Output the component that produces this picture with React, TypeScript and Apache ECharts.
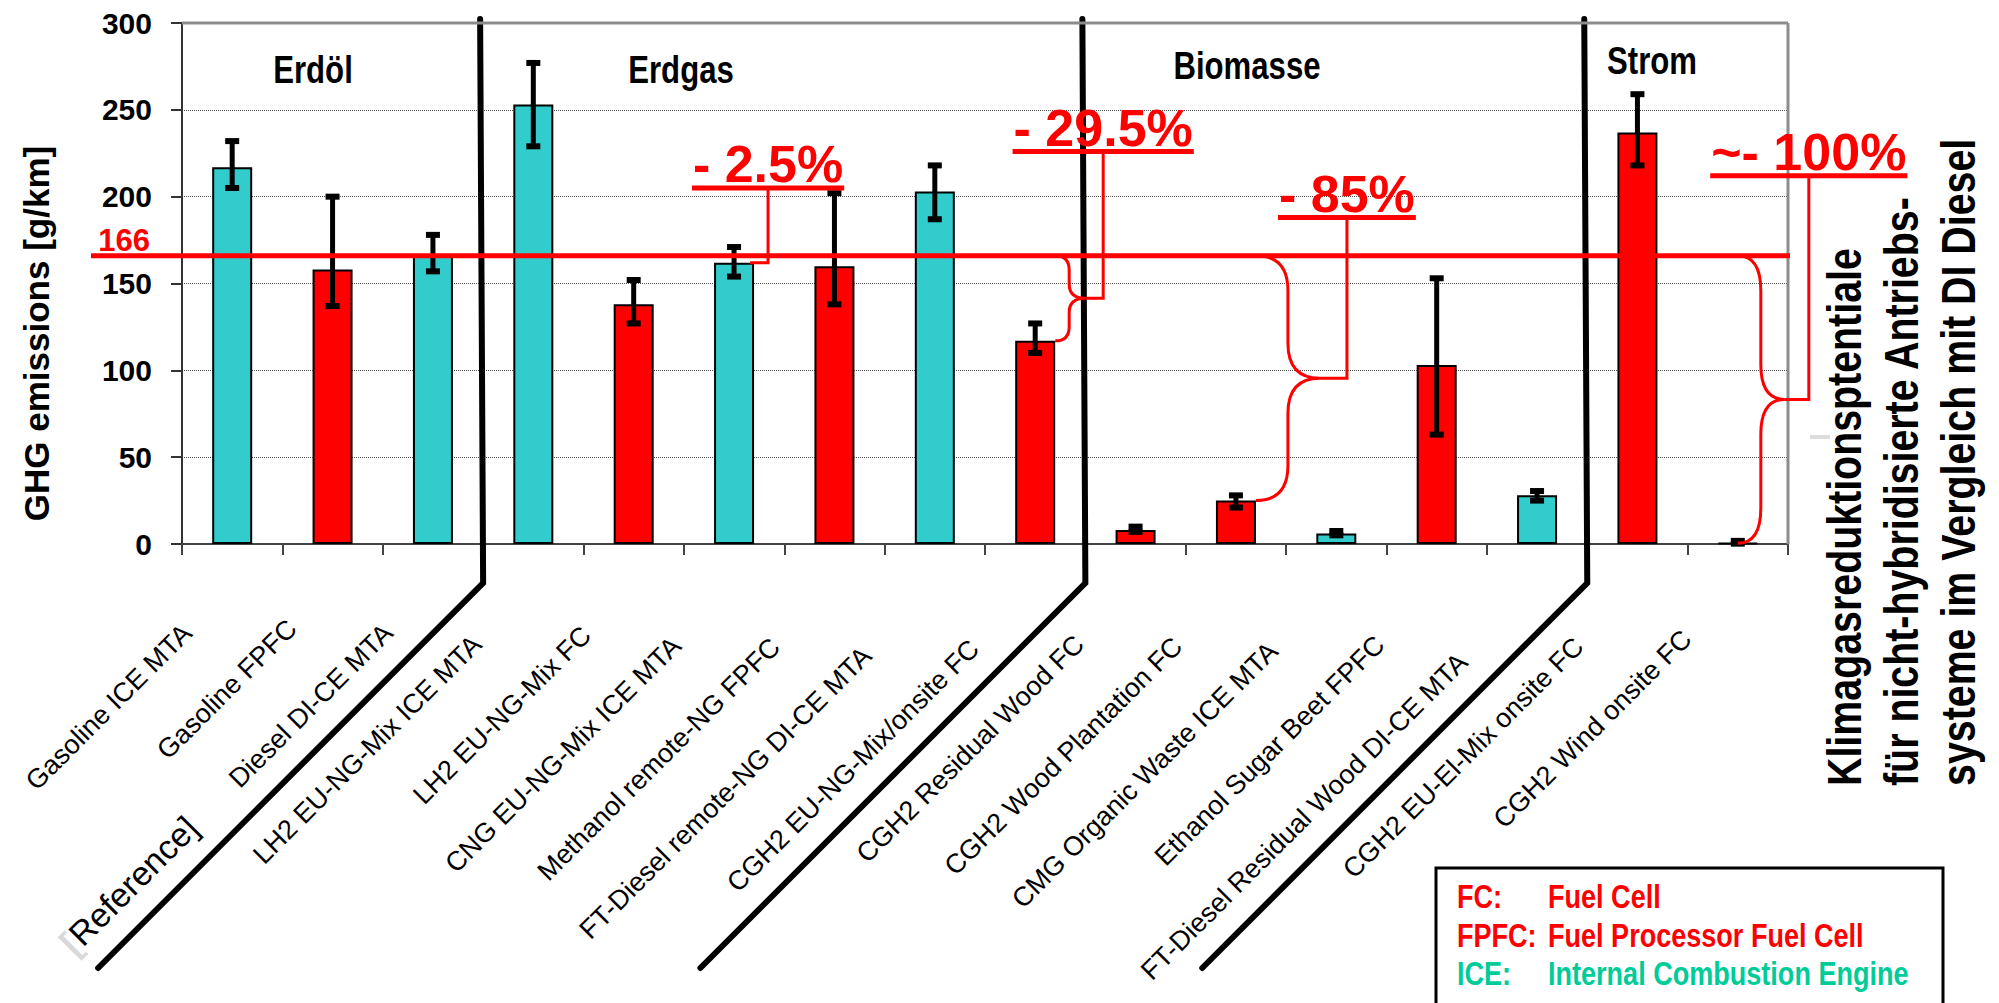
import React, { useEffect, useRef } from "react";
import * as echarts from "echarts";

// ---------------- data ----------------
const CATEGORIES = [
  "Gasoline ICE MTA",
  "Gasoline FPFC",
  "Diesel DI-CE MTA",
  "LH2 EU-NG-Mix ICE MTA",
  "LH2 EU-NG-Mix FC",
  "CNG EU-NG-Mix ICE MTA",
  "Methanol remote-NG FPFC",
  "FT-Diesel remote-NG DI-CE MTA",
  "CGH2 EU-NG-Mix/onsite FC",
  "CGH2 Residual Wood FC",
  "CGH2 Wood Plantation FC",
  "CMG Organic Waste ICE MTA",
  "Ethanol Sugar Beet FPFC",
  "FT-Diesel Residual Wood DI-CE MTA",
  "CGH2 EU-El-Mix onsite FC",
  "CGH2 Wind onsite FC",
];
const DRIVE_TYPES = ["ICE", "FPFC", "ICE", "ICE", "FC", "ICE", "FPFC", "ICE", "FC", "FC", "FC", "ICE", "FPFC", "ICE", "FC", "FC"];
const GHG_VALUES = [217, 158, 166, 253, 138, 162, 160, 203, 117, 8, 25, 6, 103, 28, 237, 0.5];
const ERROR_LOW = [205, 137, 157, 229, 127, 154, 138, 187, 110, 7, 21, 5, 63, 25, 218, 0.2];
const ERROR_HIGH = [232, 200, 178, 277, 152, 171, 202, 218, 127, 10, 28, 7.5, 153, 30.5, 259, 1.8];
const Y_MIN = 0;
const Y_MAX = 300;
const Y_STEP = 50;
const Y_NAME = "GHG emissions [g/km]";
const REFERENCE_VALUE = 166;
const REFERENCE_NOTE = "[Reference]";
const GROUP_NAMES = ["Erdöl", "Erdgas", "Biomasse", "Strom"];
const GROUP_BOUNDARIES = [3, 9, 14];
const REDUCTION_LABELS = ["- 2.5%", "- 29.5%", "- 85%", "~- 100%"];
const REDUCTION_TARGETS = [5, 8, 10, 15];
const LEGEND_ABBR = ["FC:", "FPFC:", "ICE:"];
const LEGEND_TEXT = ["Fuel Cell", "Fuel Processor Fuel Cell", "Internal Combustion Engine"];
const SIDE_TEXT = [
  "Klimagasreduktionsptentiale",
  "für nicht-hybridisierte Antriebs-",
  "systeme im Vergleich mit DI Diesel",
];

// ---------------- layout / style ----------------
const WIDTH = 1999;
const HEIGHT = 1003;
const SANS = '"Liberation Sans", Arial, sans-serif';
const NARROW_SCALE = 0.82;
const RED = "#FF0000";
const CYAN = "#33CCCC";
const GREEN = "#00CC99";
const TYPE_COLORS: Record<string, string> = { FC: RED, FPFC: RED, ICE: CYAN };
const GROUP_LABEL_POS = [
  [313, 70],
  [681, 70],
  [1247, 66],
  [1652, 61],
];
// startOff: px from category centre; stem/tip: brace offsets; conn: connector offset; labelValue: underline height (axis units)
const ANNOT_LAYOUT = [
  { startOff: 16, stem: 0, tip: 0, conn: 18, labelValue: 205 },
  { startOff: 20, stem: 14, tip: 30, conn: 18, labelValue: 226 },
  { startOff: 20, stem: 32, tip: 64, conn: 27, labelValue: 188 },
  { startOff: 0, stem: 23, tip: 47, conn: 24, labelValue: 212 },
];
const ANNOT_FONT_SIZE = 52;
const LABEL_FONT_SIZE = 27;

function measure(text: string, font: string): number {
  const ctx = document.createElement("canvas").getContext("2d");
  if (!ctx) return text.length * 20;
  ctx.font = font;
  return ctx.measureText(text).width;
}

function buildOption() {
  const annotFont = `bold ${ANNOT_FONT_SIZE}px "Liberation Sans"`;
  const labelWidths = CATEGORIES.map((c) => measure(c, `${LABEL_FONT_SIZE}px "Liberation Sans"`));
  const rich: Record<string, any> = {};
  CATEGORIES.forEach((_, i) => {
    rich["r" + i] = {
      fontFamily: SANS,
      fontSize: LABEL_FONT_SIZE,
      color: "#000",
      padding: [0, 52 + 0.18 * labelWidths[i], 0, 0],
    };
  });

  const renderErrorBar = (params: any, api: any) => {
    const x = api.coord([api.value(0), 0])[0];
    const yLo = api.coord([api.value(0), api.value(1)])[1];
    const yHi = api.coord([api.value(0), api.value(2)])[1];
    return {
      type: "group",
      children: [
        { type: "line", shape: { x1: x, y1: yHi, x2: x, y2: yLo }, style: { stroke: "#000", lineWidth: 5 } },
        { type: "rect", shape: { x: x - 7, y: yHi - 3, width: 14, height: 6 }, style: { fill: "#000" } },
        { type: "rect", shape: { x: x - 7, y: yLo - 3, width: 14, height: 6 }, style: { fill: "#000" } },
      ],
    };
  };

  const renderSeparator = (params: any, api: any) => {
    const band = api.size([1, 0])[0];
    const x = api.coord([api.value(0), 0])[0] - band / 2;
    const yAxis = api.coord([0, Y_MIN])[1];
    const yTop = api.coord([0, Y_MAX])[1];
    return {
      type: "polyline",
      shape: { points: [[x - 3, yTop - 4], [x, yAxis + 39], [x - 385, yAxis + 424]] },
      style: { fill: "none", stroke: "#000", lineWidth: 6, lineCap: "round", lineJoin: "miter" },
    };
  };

  const renderReference = (params: any, api: any) => {
    const band = api.size([1, 0])[0];
    const left = api.coord([0, 0])[0] - band / 2;
    const right = api.coord([CATEGORIES.length - 1, 0])[0] + band / 2;
    const yRef = api.coord([0, api.value(1)])[1];
    const yTop = api.coord([0, Y_MAX])[1];
    const yBottom = api.coord([0, Y_MIN])[1];
    return {
      type: "group",
      children: [
        { type: "line", shape: { x1: left, y1: yTop, x2: right, y2: yTop }, style: { stroke: "#8c8c8c", lineWidth: 3 } },
        { type: "line", shape: { x1: right, y1: yTop, x2: right, y2: yBottom }, style: { stroke: "#8c8c8c", lineWidth: 3 } },
        { type: "line", shape: { x1: left - 91, y1: yRef, x2: right + 2, y2: yRef }, style: { stroke: RED, lineWidth: 5 } },
        {
          type: "text",
          style: {
            text: String(REFERENCE_VALUE),
            x: left - 32,
            y: yRef - 15,
            align: "right",
            textAlign: "right",
            verticalAlign: "middle",
            textVerticalAlign: "middle",
            font: `bold 31px ${SANS}`,
            fill: RED,
          },
        },
      ],
    };
  };

  const renderAnnotation = (params: any, api: any) => {
    const i = params.dataIndex;
    const L = ANNOT_LAYOUT[i];
    const cat = api.value(0);
    const [cx, yTop] = api.coord([cat, REFERENCE_VALUE]);
    const yBot = api.coord([cat, api.value(1)])[1];
    const x0 = cx + L.startOff;
    const children: any[] = [];
    let tipX = x0;
    let tipY = yBot;
    if (L.stem) {
      const xs = x0 + L.stem;
      const xt = x0 + L.tip;
      const ym = (yTop + yBot) / 2;
      const r = Math.min(35, (yBot - yTop) / 6);
      const d =
        `M${x0},${yTop} Q${xs},${yTop} ${xs},${yTop + r} L${xs},${ym - r} ` +
        `Q${xs},${ym} ${xt},${ym} Q${xs},${ym} ${xs},${ym + r} L${xs},${yBot - r} Q${xs},${yBot} ${x0},${yBot}`;
      children.push({ type: "path", shape: { pathData: d }, style: { fill: "none", stroke: RED, lineWidth: 3 } });
      tipX = xt;
      tipY = ym;
    }
    const xc = tipX + L.conn;
    const yU = api.coord([cat, L.labelValue])[1];
    children.push({
      type: "polyline",
      shape: { points: [[tipX, tipY], [xc, tipY], [xc, yU]] },
      style: { fill: "none", stroke: RED, lineWidth: 3 },
    });
    const text = REDUCTION_LABELS[i];
    const tw = measure(text, annotFont);
    children.push({ type: "rect", shape: { x: xc - tw / 2 - 1, y: yU - 2.5, width: tw + 2, height: 5 }, style: { fill: RED } });
    children.push({
      type: "text",
      style: {
        text,
        x: xc,
        y: yU - 24,
        align: "center",
        textAlign: "center",
        verticalAlign: "middle",
        textVerticalAlign: "middle",
        font: annotFont,
        fill: RED,
      },
    });
    return { type: "group", children };
  };

  const textEl = (
    text: string,
    x: number,
    y: number,
    font: string,
    fill: string,
    align = "left",
    rotation = 0,
    scaleX = 1
  ) => ({
    type: "text",
    x,
    y,
    rotation,
    scaleX,
    scaleY: 1,
    style: {
      text,
      align,
      textAlign: align,
      verticalAlign: "middle",
      textVerticalAlign: "middle",
      font,
      fill,
    },
  });

  const graphics: any[] = [];
  GROUP_NAMES.forEach((g, i) => {
    graphics.push(
      textEl(g, GROUP_LABEL_POS[i][0], GROUP_LABEL_POS[i][1], `bold 38px ${SANS}`, "#000", "center", 0, NARROW_SCALE)
    );
  });
  SIDE_TEXT.forEach((t, i) => {
    graphics.push(textEl(t, 1844 + i * 57, 786, `bold 48px ${SANS}`, "#000", "left", Math.PI / 2, NARROW_SCALE));
  });
  graphics.push({
    type: "rect",
    shape: { x: 1436, y: 868, width: 507, height: 200 },
    style: { fill: "#fff", stroke: "#000", lineWidth: 3 },
  });
  LEGEND_ABBR.forEach((a, i) => {
    const color = i < 2 ? RED : GREEN;
    graphics.push(textEl(a, 1457, 897 + i * 38.5, `bold 33px ${SANS}`, color, "left", 0, NARROW_SCALE));
    graphics.push(textEl(LEGEND_TEXT[i], 1548, 897 + i * 38.5, `bold 33px ${SANS}`, color, "left", 0, NARROW_SCALE));
  });
  graphics.push({
    type: "text",
    x: 192,
    y: 822,
    rotation: Math.PI / 4,
    style: {
      text: "{g|[}" + REFERENCE_NOTE.slice(1),
      align: "right",
      textAlign: "right",
      verticalAlign: "middle",
      textVerticalAlign: "middle",
      font: `34px ${SANS}`,
      fill: "#000",
      rich: { g: { fill: "#d9d9d9", fontSize: 36, fontFamily: SANS, fontWeight: "bold" } },
    },
  });
  graphics.push({
    type: "line",
    shape: { x1: 1810, y1: 437, x2: 1830, y2: 437 },
    style: { stroke: "#dddddd", lineWidth: 4 },
  });

  return {
    animation: false,
    backgroundColor: "#fff",
    grid: { left: 182, right: WIDTH - 1788, top: 23, bottom: HEIGHT - 544, outerBoundsMode: "none", containLabel: false },
    xAxis: {
      type: "category",
      data: CATEGORIES,
      axisLine: { show: true, lineStyle: { color: "#444", width: 2 } },
      axisTick: { show: true, length: 11, lineStyle: { color: "#444", width: 2 } },
      splitLine: { show: false },
      axisLabel: {
        interval: 0,
        rotate: 45,
        margin: 0,
        padding: [56, 0, 0, 0],
        fontFamily: SANS,
        fontSize: LABEL_FONT_SIZE,
        color: "#000",
        formatter: (v: string, i: number) => `{r${i}|${v}}`,
        rich,
      },
    },
    yAxis: {
      type: "value",
      min: Y_MIN,
      max: Y_MAX,
      interval: Y_STEP,
      name: Y_NAME,
      nameLocation: "middle",
      nameRotate: 90,
      nameGap: 128,
      nameTextStyle: {
        fontFamily: SANS,
        fontWeight: "bold",
        fontSize: 35,
        color: "#000",
        padding: [0, 100, 0, 0],
      },
      axisLine: { show: true, lineStyle: { color: "#333", width: 2 } },
      axisTick: { show: true, length: 11, lineStyle: { color: "#333", width: 2 } },
      axisLabel: { fontFamily: SANS, fontWeight: "bold", fontSize: 30, color: "#000", margin: 30 },
      splitLine: { show: true, lineStyle: { type: "dotted", color: "#555", width: 1 } },
    },
    series: [
      {
        type: "bar",
        barWidth: 40,
        data: GHG_VALUES.map((v, i) => ({ value: v, itemStyle: { color: TYPE_COLORS[DRIVE_TYPES[i]] } })),
        itemStyle: { borderColor: "#000", borderWidth: 2 },
        z: 2,
      },
      {
        type: "custom",
        renderItem: renderErrorBar,
        data: GHG_VALUES.map((_, i) => [i, ERROR_LOW[i], ERROR_HIGH[i]]),
        encode: { x: 0, y: [1, 2] },
        z: 3,
      },
      {
        type: "custom",
        renderItem: renderSeparator,
        data: GROUP_BOUNDARIES.map((b) => [b, 0]),
        encode: { x: 0, y: 1 },
        clip: false,
        z: 4,
      },
      {
        type: "custom",
        renderItem: renderReference,
        data: [[0, REFERENCE_VALUE]],
        encode: { x: 0, y: 1 },
        clip: false,
        z: 5,
      },
      {
        type: "custom",
        renderItem: renderAnnotation,
        data: REDUCTION_TARGETS.map((c) => [c, GHG_VALUES[c]]),
        encode: { x: 0, y: 1 },
        clip: false,
        z: 6,
      },
    ],
    graphic: { elements: graphics },
  };
}

export default function App() {
  const ref = useRef<HTMLDivElement>(null);
  useEffect(() => {
    if (!ref.current) return;
    const chart = echarts.init(ref.current, null, { renderer: "svg" });
    chart.setOption(buildOption() as any);
    return () => chart.dispose();
  }, []);
  return (
    <div
      ref={ref}
      style={{ position: "fixed", left: 0, top: 0, width: WIDTH, height: HEIGHT, background: "#fff" }}
    />
  );
}
